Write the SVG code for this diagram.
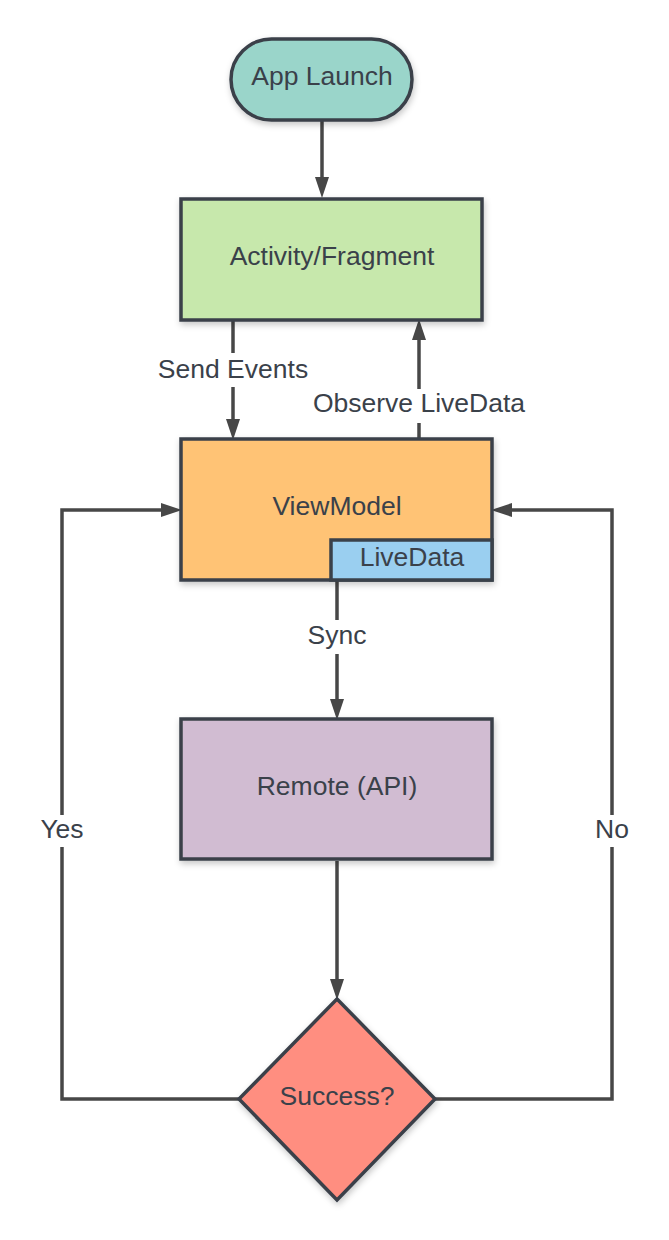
<svg xmlns="http://www.w3.org/2000/svg" width="669" height="1240" viewBox="0 0 669 1240">
<style>
.node{stroke:#3a414a;stroke-width:3.5;filter:url(#sh)}
.t{font-family:"Liberation Sans",Arial,sans-serif;font-size:26.5px;fill:#3a414a;text-anchor:middle}
.c{fill:none;stroke:#474747;stroke-width:3.5;marker-end:url(#ah)}
.lb{fill:#ffffff}
</style>
<defs>
<filter id="sh" x="-20%" y="-20%" width="140%" height="140%">
<feDropShadow dx="1" dy="3" stdDeviation="3" flood-color="#000" flood-opacity="0.22"/>
</filter>
<marker id="ah" markerUnits="userSpaceOnUse" markerWidth="22" markerHeight="16" refX="14" refY="7" orient="auto">
<path d="M0,0 L21,7 L0,14 z" fill="#474747"/>
</marker>
</defs>
<rect width="669" height="1240" fill="#ffffff"/>
<g id="connectors">
<path class="c" d="M322,121 L322,191"/>
<path class="c" d="M233,321 L233,433"/>
<path class="c" d="M419,438 L419,326"/>
<path class="c" d="M337,581 L337,713"/>
<path class="c" d="M337,861 L337,993"/>
<path class="c" d="M239,1099 L62,1099 L62,510 L175,510"/>
<path class="c" d="M435,1099 L612,1099 L612,510 L498,510"/>
<rect class="lb" x="154" y="353" width="158" height="34"/>
<text class="t" x="233" y="378">Send Events</text>
<rect class="lb" x="308" y="389" width="222" height="34"/>
<text class="t" x="419" y="412">Observe LiveData</text>
<rect class="lb" x="303" y="620" width="68" height="34"/>
<text class="t" x="337" y="644">Sync</text>
<rect class="lb" x="36" y="815" width="52" height="32"/>
<text class="t" x="62" y="838">Yes</text>
<rect class="lb" x="590" y="815" width="44" height="32"/>
<text class="t" x="612" y="838">No</text>
</g>
<g id="app-launch">
<rect class="node" x="231" y="39" width="181" height="81" rx="40.5" fill="#9ad5ca"/>
<text class="t" x="322" y="85">App Launch</text>
</g>
<g id="activity-fragment">
<rect class="node" x="181" y="199" width="301" height="121" fill="#c7e8ac"/>
<text class="t" x="332" y="265">Activity/Fragment</text>
</g>
<g id="viewmodel">
<rect class="node" x="181" y="439" width="311" height="141" fill="#ffc374"/>
<text class="t" x="337" y="515">ViewModel</text>
</g>
<g id="livedata">
<rect x="331" y="540" width="161" height="40" fill="#9acff0" stroke="#3a414a" stroke-width="3.5"/>
<text class="t" x="412" y="566">LiveData</text>
</g>
<g id="remote-api">
<rect class="node" x="181" y="719" width="311" height="140" fill="#d1bcd2"/>
<text class="t" x="337" y="795">Remote (API)</text>
</g>
<g id="success">
<path class="node" d="M337,999 L435,1099 L337,1200 L239,1099 Z" fill="#ff8e80"/>
<text class="t" x="337" y="1105">Success?</text>
</g>
</svg>
